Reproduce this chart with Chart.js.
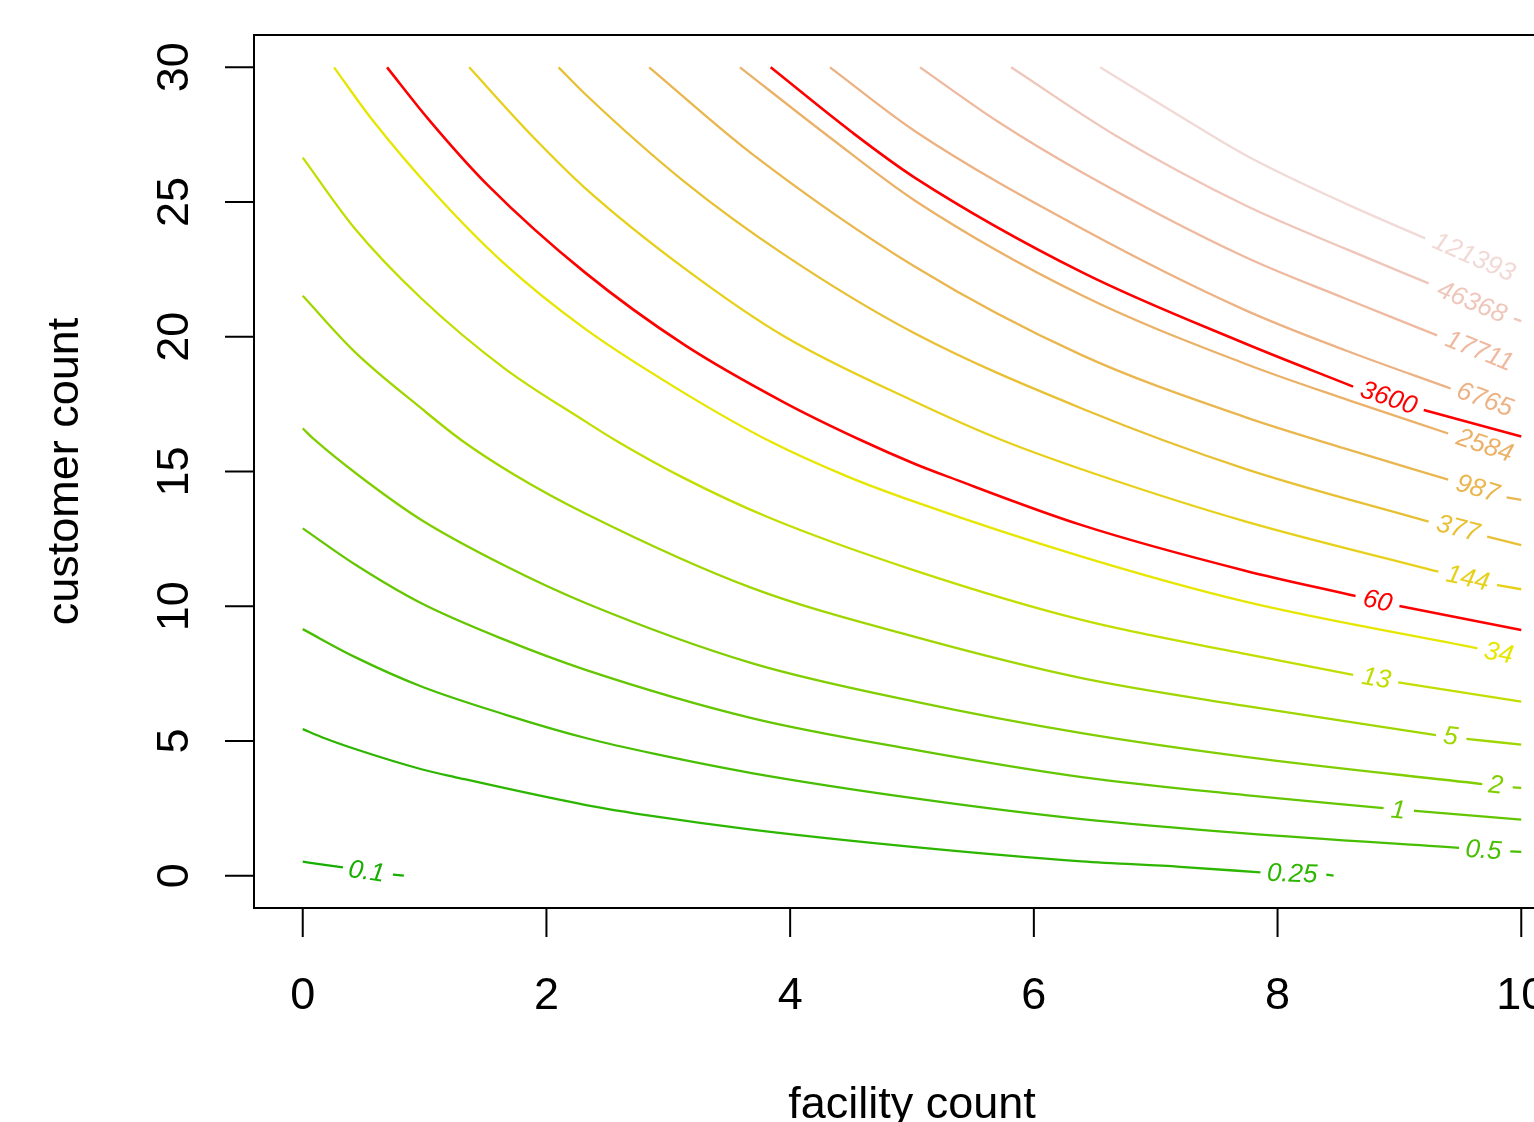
<!DOCTYPE html>
<html>
<head>
<meta charset="utf-8">
<title>Contour plot</title>
<script src="https://cdn.jsdelivr.net/npm/chart.js@4.4.1/dist/chart.umd.min.js"></script>
<style>
html,body{margin:0;padding:0;background:#ffffff;overflow:hidden;width:1534px;height:1122px;}
#box{position:absolute;left:0;top:0;width:1650px;height:1122px;}
canvas{display:block;}
</style>
</head>
<body>
<div id="box"><canvas id="chart" width="1650" height="1122"></canvas></div>
<script>
// ---- axis content ----
const xTicks = [0, 2, 4, 6, 8, 10];
const yTicks = [0, 5, 10, 15, 20, 25, 30];
const xTitle = 'facility count';
const yTitle = 'customer count';

// ---- contour levels and colours ----
const levels = ['0.1','0.25','0.5','1','2','5','13','34','60','144','377','987','2584','3600','6765','17711','46368','121393'];
const lineColors = ['#16AE00','#2DB600','#47BE00','#63C600','#80CE00','#A0D600','#C2DE00','#E6E600','#FF0000',
                    '#E7D01A','#E8C034','#EAB64E','#EBB168','#FF0000','#EDB284','#EEB99F','#EFC6BA','#F1D9D6'];

// ---- contour lines: [facility count, customer count]; null = label gap ----
const c_0_1   = [[0,0.52],[0.15,0.42],[0.33,0.31],null,[0.74,0.04],[0.83,0.0]];
const c_0_25  = [[0,5.44],[0.18,5.10],[0.43,4.70],[0.974,3.95],[1.248,3.66],[2.315,2.63],[2.89,2.2],[3.684,1.71],[5.025,1.06],[6.393,0.53],[7.2,0.33],[7.86,0.12],null,[8.40,0.04],[8.46,0.0]];
const c_0_5   = [[0,9.15],[0.43,8.11],[0.974,7.02],[1.66,5.98],[2.33,5.1],[2.89,4.52],[3.684,3.81],[5.025,2.87],[6.393,2.1],[7.734,1.57],[9.49,1.03],null,[9.91,0.90],[10,0.88]];
const c_1     = [[0,12.89],[0.43,11.55],[0.974,10.11],[1.66,8.75],[2.315,7.65],[3.684,5.85],[5.025,4.67],[6.393,3.66],[7.734,2.99],[8.87,2.51],null,[9.12,2.41],[10,2.08]];
const c_2     = [[0,16.6],[0.099,16.17],[0.454,14.87],[0.974,13.2],[1.66,11.5],[2.315,10.13],[3.684,7.89],[5.025,6.46],[6.393,5.29],[7.734,4.41],[9.68,3.40],null,[9.93,3.28],[10,3.26]];
const c_5     = [[0,21.52],[0.427,19.44],[0.974,17.34],[1.30,16.17],[1.74,14.87],[2.315,13.45],[3.684,10.68],[5.025,8.86],[6.393,7.33],[7.734,6.3],[9.3,5.22],null,[9.55,5.08],[10,4.86]];
const c_13    = [[0,26.65],[0.427,24.02],[0.974,21.42],[1.658,18.82],[2.315,16.87],[2.562,16.17],[3.109,14.8],[3.82,13.3],[5.025,11.32],[6.393,9.49],[7.734,8.23],[8.62,7.45],null,[8.99,7.17],[10,6.46]];
const c_34    = [[0.257,30],[0.564,28.09],[1.098,25.25],[1.645,22.75],[2.315,20.3],[3.136,17.9],[3.834,16.12],[4.477,14.8],[5.025,13.87],[6.393,11.84],[7.734,10.17],[9.64,8.44]];
const c_60    = [[0.692,30],[1.029,28.09],[1.52,25.62],[2.315,22.39],[3.136,19.69],[3.957,17.55],[4.587,16.15],[5.025,15.28],[5.30,14.8],[6.393,13.01],[7.734,11.32],[8.64,10.38],null,[9.0,10.01],[10,9.12]];
const c_144   = [[1.366,30],[1.877,27.48],[2.315,25.53],[3.136,22.53],[3.957,20.0],[5.025,17.59],[5.736,16.17],[6.53,14.87],[7.734,13.15],[9.32,11.28],null,[9.80,10.79],[10,10.63]];
const c_377   = [[2.10,30],[2.315,29.02],[3.136,25.74],[3.957,23.03],[5.025,20.12],[6.393,17.34],[7.734,15.1],[9.24,13.14],null,[9.72,12.58],[10,12.27]];
const c_987   = [[2.843,30],[3.684,26.8],[5.025,22.6],[6.393,19.32],[7.734,17.02],[8.555,15.85],[9.4,14.7],null,[9.88,14.04],[10,13.95]];
const c_2584  = [[3.588,30],[4.34,27.35],[5.025,25.05],[6.393,21.54],[7.734,19.0],[8.58,17.65],[9.4,16.41]];
const c_3600  = [[3.84,30],[4.505,27.6],[5.025,25.9],[6.393,22.4],[7.734,19.75],[8.62,18.15],null,[9.2,17.28],[10,16.3]];
const c_6765  = [[4.327,30],[5.025,27.63],[6.393,24.02],[7.734,20.99],[8.555,19.5],[9.42,18.08]];
const c_17711 = [[5.066,30],[5.71,27.97],[6.393,26.11],[7.734,22.96],[8.555,21.42],[9.31,20.05]];
const c_46368 = [[5.813,30],[6.667,27.48],[7.734,24.88],[8.555,23.27],[9.24,21.98],null,[9.94,20.68],[10,20.58]];
const c_121393= [[6.544,30],[7.214,28.15],[7.734,26.75],[8.555,24.95],[9.212,23.65]];

const curves = [c_0_1,c_0_25,c_0_5,c_1,c_2,c_5,c_13,c_34,c_60,c_144,c_377,c_987,c_2584,c_3600,c_6765,c_17711,c_46368,c_121393];

// ---- where each level label sits (data coordinates) ----
const labelX = [0.523, 8.12, 9.69, 8.99, 9.79, 9.42, 8.81, 9.815, 8.82, 9.56, 9.48, 9.64, 9.70, 8.91, 9.70, 9.655, 9.593, 9.61];
const labelY = [0.13, 0.05, 0.92, 2.40, 3.33, 5.15, 7.30, 8.24, 10.17, 11.02, 12.87, 14.35, 15.94, 17.71, 17.65, 19.45, 21.27, 22.93];

// ---- build datasets (one per unbroken piece of each contour) ----
const datasets = [];
curves.forEach((curve, i) => {
  let seg = [];
  const isRed = levels[i] === '60' || levels[i] === '3600';
  const flush = () => {
    if (seg.length) {
      datasets.push({
        data: seg,
        borderColor: lineColors[i],
        backgroundColor: lineColors[i],
        borderWidth: isRed ? 2.6 : 2.3,
        pointRadius: 0,
        pointHoverRadius: 0,
        showLine: true,
        fill: false,
        cubicInterpolationMode: 'monotone'
      });
      seg = [];
    }
  };
  curve.forEach(p => { if (p === null) flush(); else seg.push({ x: p[0], y: p[1] }); });
  flush();
});

const FONT = '"Liberation Sans", Arial, Helvetica, sans-serif';

const rAxes = {
  id: 'rAxes',
  afterDraw(chart) {
    const { ctx, chartArea: a, scales: { x, y } } = chart;
    ctx.save();
    ctx.strokeStyle = '#000000';
    ctx.lineWidth = 2;
    ctx.strokeRect(a.left, a.top, a.right - a.left, a.bottom - a.top);

    ctx.beginPath();
    ctx.moveTo(x.getPixelForValue(xTicks[0]), a.bottom);
    ctx.lineTo(x.getPixelForValue(xTicks[xTicks.length - 1]), a.bottom);
    xTicks.forEach(v => {
      const px = x.getPixelForValue(v);
      ctx.moveTo(px, a.bottom);
      ctx.lineTo(px, a.bottom + 29);
    });
    ctx.moveTo(a.left, y.getPixelForValue(yTicks[0]));
    ctx.lineTo(a.left, y.getPixelForValue(yTicks[yTicks.length - 1]));
    yTicks.forEach(v => {
      const py = y.getPixelForValue(v);
      ctx.moveTo(a.left, py);
      ctx.lineTo(a.left - 29, py);
    });
    ctx.stroke();

    ctx.fillStyle = '#000000';
    ctx.font = '45px ' + FONT;
    ctx.textAlign = 'center';
    ctx.textBaseline = 'alphabetic';
    xTicks.forEach(v => ctx.fillText(String(v), x.getPixelForValue(v), a.bottom + 101));
    ctx.fillText(xTitle, (a.left + a.right) / 2, a.bottom + 210);

    yTicks.forEach(v => {
      ctx.save();
      ctx.translate(a.left - 66, y.getPixelForValue(v));
      ctx.rotate(-Math.PI / 2);
      ctx.fillText(String(v), 0, 0);
      ctx.restore();
    });
    ctx.save();
    ctx.translate(a.left - 176, (a.top + a.bottom) / 2);
    ctx.rotate(-Math.PI / 2);
    ctx.fillText(yTitle, 0, 0);
    ctx.restore();
    ctx.restore();
  }
};

const rLabels = {
  id: 'rLabels',
  afterDatasetsDraw(chart) {
    const { ctx, scales: { x, y } } = chart;
    ctx.save();
    ctx.font = 'italic 26px ' + FONT;
    ctx.textAlign = 'center';
    ctx.textBaseline = 'middle';
    curves.forEach((curve, i) => {
      const k = curve.indexOf(null);
      let p0, p1;
      if (k > 0) { p0 = curve[k - 1]; p1 = curve[k + 1]; }
      else { p0 = curve[curve.length - 2]; p1 = curve[curve.length - 1]; }
      const ang = Math.atan2(
        y.getPixelForValue(p1[1]) - y.getPixelForValue(p0[1]),
        x.getPixelForValue(p1[0]) - x.getPixelForValue(p0[0]));
      ctx.save();
      ctx.translate(x.getPixelForValue(labelX[i]), y.getPixelForValue(labelY[i]));
      ctx.rotate(ang);
      ctx.fillStyle = lineColors[i];
      ctx.fillText(levels[i], 0, 0);
      ctx.restore();
    });
    ctx.restore();
  }
};

new Chart(document.getElementById('chart').getContext('2d'), {
  type: 'scatter',
  data: { datasets },
  options: {
    responsive: false,
    animation: false,
    devicePixelRatio: 1,
    layout: { padding: { left: 254, top: 35, right: 80, bottom: 214 } },
    scales: {
      x: { type: 'linear', min: -0.4, max: 10.4, display: false },
      y: { type: 'linear', min: -1.2, max: 31.2, display: false }
    },
    plugins: { legend: { display: false }, tooltip: { enabled: false } },
    events: []
  },
  plugins: [rAxes, rLabels]
});
</script>
</body>
</html>
